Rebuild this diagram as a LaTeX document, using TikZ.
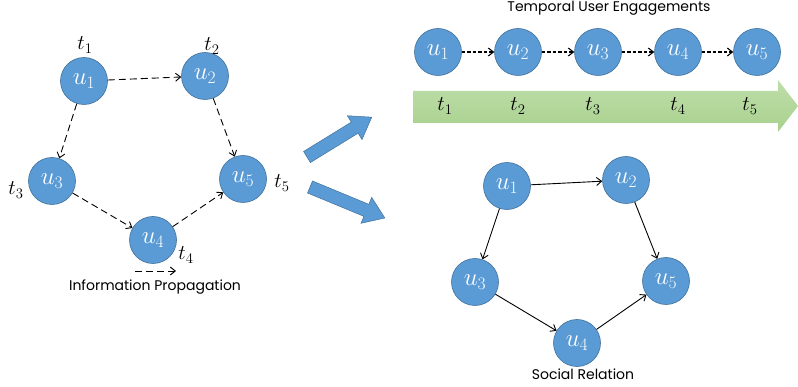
\RequirePackage{fix-cm}
\documentclass[tikz,border=0pt]{standalone}
\usepackage[no-math]{fontspec}
\newfontfamily\capfont{Poppins}
\usetikzlibrary{arrows.meta}
\definecolor{userBlue}{RGB}{91,155,213}
\definecolor{userEdge}{RGB}{65,113,156}
\definecolor{timeGreen}{RGB}{169,209,142}
\definecolor{timeLight}{RGB}{190,222,170}

\tikzset{
  user/.style={circle, fill=userBlue, draw=userEdge, line width=0.6pt,
    minimum size=47pt, inner sep=0pt, text=white,
    font=\fontsize{25}{28}\selectfont},
  tlabel/.style={font=\fontsize{21}{25}\selectfont},
  caption/.style={font=\capfont\fontsize{14}{16}\selectfont},
  prop/.style={->, dash pattern=on 7pt off 4pt, line width=0.9pt},
  seq/.style={->, dash pattern=on 3.5pt off 2pt, line width=1.1pt},
  rel/.style={->, line width=0.9pt},
  bigarrow/.style={fill=userBlue, draw=userEdge, line width=0.5pt}
}

\begin{document}
\begin{tikzpicture}[x=1pt, y=-1pt, >={Straight Barb[length=5pt,width=8pt]}]
    \useasboundingbox (0,0) rectangle (798,387);

    % information propagation (left)
    \node[user] (a1) at (84,81) {$u_1$};
    \node[user] (a2) at (205,76) {$u_2$};
    \node[user] (a3) at (52,181) {$u_3$};
    \node[user] (a4) at (153,240) {$u_4$};
    \node[user] (a5) at (243,179) {$u_5$};

    \node[tlabel] (ta1) at (85,45) {$t_1$};
    \node[tlabel] (ta2) at (212,46) {$t_2$};
    \node[tlabel] (ta3) at (16,190) {$t_3$};
    \node[tlabel] (ta4) at (186,255) {$t_4$};
    \node[tlabel] (ta5) at (282,183) {$t_5$};

    \draw[prop] (a1) -- (a2);
    \draw[prop] (a1) -- (a3);
    \draw[prop] (a2) -- (a5);
    \draw[prop] (a3) -- (a4);
    \draw[prop] (a4) -- (a5);

    \coordinate (lg1) at (135,271);
    \coordinate (lg2) at (176,271);
    \draw[prop] (lg1) -- (lg2);
    \node[caption] (capA) at (155,287) {Information Propagation};

    % block arrows
    \begin{scope}[shift={(307,157)}, rotate=31.6]
      \draw[bigarrow] (0,-6.5) -- (56,-6.5) -- (56,-14) -- (76,0) -- (56,14) -- (56,6.5) -- (0,6.5) -- cycle;
    \end{scope}
    \begin{scope}[shift={(310,187)}, rotate=-22.5]
      \draw[bigarrow] (0,-6.5) -- (61,-6.5) -- (61,-14) -- (81,0) -- (61,14) -- (61,6.5) -- (0,6.5) -- cycle;
    \end{scope}

    % temporal user engagements (top right)
    \node[caption] (capB) at (609,8) {Temporal User Engagements};
    \node[user] (b1) at (438,52) {$u_1$};
    \node[user] (b2) at (518,52) {$u_2$};
    \node[user] (b3) at (598,52) {$u_3$};
    \node[user] (b4) at (678,52) {$u_4$};
    \node[user] (b5) at (757,52) {$u_5$};
    \foreach \i/\j in {b1/b2,b2/b3,b3/b4,b4/b5}
      \draw[seq] (\i) -- (\j);

    \shade[top color=timeLight, bottom color=timeGreen] (413,91) -- (778,91) -- (778,80) -- (798,106) -- (778,132) -- (778,123) -- (413,123) -- cycle;
    \node[tlabel] (tb1) at (445,106) {$t_1$};
    \node[tlabel] (tb2) at (518,106) {$t_2$};
    \node[tlabel] (tb3) at (593,106) {$t_3$};
    \node[tlabel] (tb4) at (678,106) {$t_4$};
    \node[tlabel] (tb5) at (750,106) {$t_5$};

    % social relation (bottom right)
    \node[user] (c1) at (507,186) {$u_1$};
    \node[user] (c2) at (626,180) {$u_2$};
    \node[user] (c3) at (475,282) {$u_3$};
    \node[user] (c4) at (577,343) {$u_4$};
    \node[user] (c5) at (666,281) {$u_5$};

    \draw[rel] (c1) -- (c2);
    \draw[rel] (c1) -- (c3);
    \draw[rel] (c2) -- (c5);
    \draw[rel] (c3) -- (c4);
    \draw[rel] (c4) -- (c5);
    \node[caption] (capC) at (583,374) {Social Relation};
\end{tikzpicture}
\end{document}
